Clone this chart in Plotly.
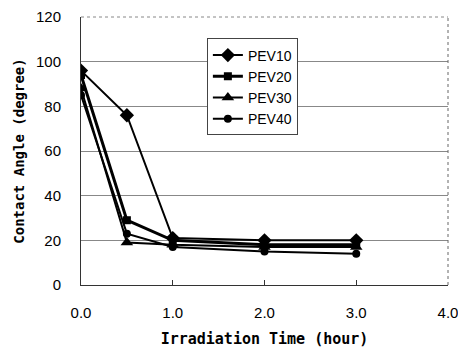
import plotly.graph_objects as go

time = [0.0, 0.5, 1.0, 2.0, 3.0]
pev10 = [96, 76, 21, 20, 20]
pev20 = [94, 29, 20, 18, 18]
pev30 = [88, 19, 18, 17, 17]
pev40 = [85, 23, 17, 15, 14]

series = [
    ("PEV10", pev10, "diamond", 11, 2),
    ("PEV20", pev20, "square", 8, 3),
    ("PEV30", pev30, "triangle-up", 11, 2),
    ("PEV40", pev40, "circle", 8, 2),
]

fig = go.Figure()
for name, ys, sym, sz, lw in series:
    fig.add_trace(go.Scatter(
        x=time, y=ys, name=name, mode="lines+markers",
        line=dict(color="black", width=lw),
        marker=dict(symbol=sym, size=sz, color="black"),
    ))

fig.update_layout(
    width=458, height=348,
    margin=dict(l=81, r=10, t=17, b=63),
    paper_bgcolor="white", plot_bgcolor="white",
    font=dict(family="Liberation Sans, Arial", color="black", size=15),
    showlegend=True,
    legend=dict(x=0.343, y=0.92, xanchor="left", yanchor="top",
                bordercolor="#444", borderwidth=1, bgcolor="white",
                font=dict(size=14), tracegroupgap=0,
                itemwidth=30),
    xaxis=dict(range=[0, 4], tickvals=[0, 1, 2, 3, 4],
               ticktext=["0.0", "1.0", "2.0", "3.0", "4.0"],
               showgrid=False, zeroline=False, automargin=False,
               ticklabeloverflow="allow",
               showline=True, linecolor="#333", linewidth=1, mirror=False,
               ticks="inside", ticklen=5, tickcolor="#333",
               ticklabelstandoff=14,
               title=dict(text="<b>Irradiation Time (hour)</b>",
                          font=dict(family="DejaVu Sans Mono", size=15), standoff=14)),
    yaxis=dict(range=[0, 120], tickvals=[0, 20, 40, 60, 80, 100, 120],
               showgrid=True, gridcolor="#888", gridwidth=1, zeroline=False,
               showline=True, linecolor="#333", linewidth=1, automargin=False,
               ticks="", ticklabelstandoff=16,
               title=dict(text="<b>Contact Angle (degree)</b>",
                          font=dict(family="DejaVu Sans Mono", size=14), standoff=8)),
)
fig.add_shape(type="line", xref="paper", yref="paper", x0=1, x1=1, y0=0, y1=1,
              line=dict(color="#666", width=1, dash="dot"))
fig.add_shape(type="line", xref="paper", yref="paper", x0=0, x1=1, y0=1, y1=1,
              line=dict(color="#888", width=1, dash="dot"))

fig.write_html("out.html")
